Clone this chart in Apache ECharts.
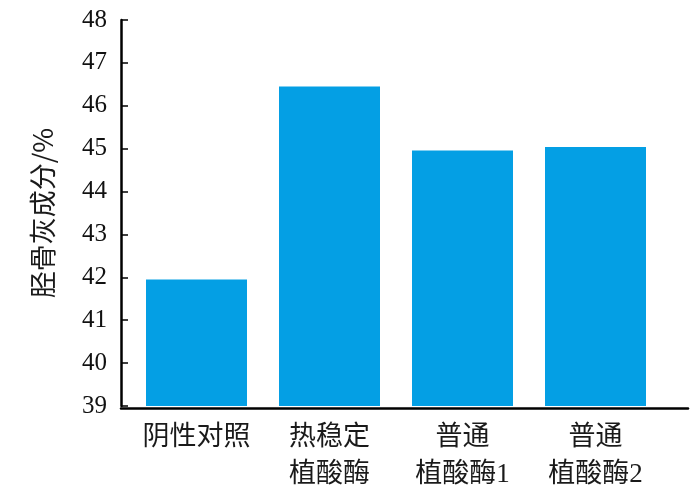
<!DOCTYPE html>
<html>
<head>
<meta charset="utf-8">
<script src="https://cdn.jsdelivr.net/npm/echarts@6/dist/echarts.min.js"></script>
<style>html,body{margin:0;padding:0;background:#fff}#c{width:690px;height:493px}</style>
</head>
<body>
<div id="c"></div>
<script>
const categories = ['阴性对照', '热稳定\n植酸酶', '普通\n植酸酶1', '普通\n植酸酶2'];
const values = [41.95, 46.45, 44.96, 45.04];
const yMin = 39, yMax = 48, yStep = 1;
const yName = '胫骨灰成分/%';

const chart = echarts.init(document.getElementById('c'));
const serifCJK = "'Liberation Serif', 'Noto Sans CJK SC', serif";
chart.setOption({
  animation: false,
  grid: [
    { left: 130, right: 28, top: 20, bottom: 85 },
    { left: 121, right: 2, top: 20, bottom: 85 }
  ],
  xAxis: [
    {
      type: 'category', gridIndex: 0, data: categories,
      axisLine: { show: false },
      axisTick: { show: false },
      axisLabel: { fontFamily: serifCJK, fontSize: 27, color: '#1a1a1a', lineHeight: 37, margin: 13, interval: 0 }
    },
    {
      type: 'value', gridIndex: 1, min: 0, max: 1,
      axisLine: { show: true, lineStyle: { color: '#000', width: 2.5 } },
      axisTick: { show: false }, axisLabel: { show: false }, splitLine: { show: false }
    }
  ],
  yAxis: [
    {
      type: 'value', gridIndex: 0, min: yMin, max: yMax, interval: yStep, offset: 9,
      name: yName, nameLocation: 'middle', nameGap: 65, nameRotate: 90,
      nameTextStyle: { fontFamily: "'Noto Sans CJK SC', sans-serif", fontSize: 27, color: '#1a1a1a' },
      axisLine: { show: true, lineStyle: { color: '#000', width: 2.5 } },
      axisTick: { show: true, inside: true, length: 7, lineStyle: { color: '#000', width: 1.5 } },
      axisLabel: { fontFamily: "'Liberation Serif', serif", fontSize: 25, color: '#111', margin: 14 },
      splitLine: { show: false }
    },
    {
      type: 'value', gridIndex: 1, min: 0, max: 1, show: false
    }
  ],
  series: [{
    type: 'bar', xAxisIndex: 0, yAxisIndex: 0,
    data: values, barWidth: 101,
    itemStyle: { color: '#049FE4' }
  }]
});
</script>
</body>
</html>
